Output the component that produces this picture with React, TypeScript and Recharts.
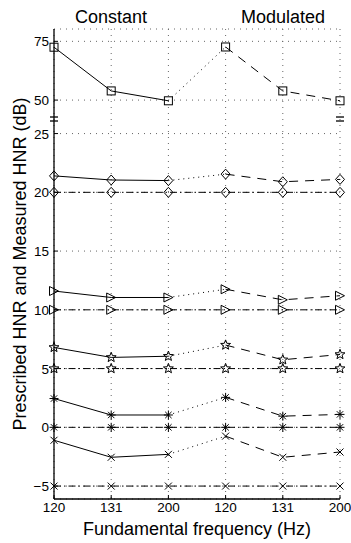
import React from 'react';
import { LineChart, Line, XAxis, YAxis, CartesianGrid, ReferenceLine } from 'recharts';

const W = 351;
const H = 543;
const FONT = '"Liberation Sans", Arial, Helvetica, sans-serif';

const freqLabels = ['120', '131', '200', '120', '131', '200'];
const groupTitles = ['Constant', 'Modulated'];
const yTickValues = [-5, 0, 5, 10, 15, 20, 25, 50, 75];

// measured HNR, first three = constant F0, last three = modulated F0
const squareMeasured = [72.5, 53.9, 49.7, 72.6, 53.9, 49.7];
const diamondMeasured = [21.4, 21.05, 21.0, 21.55, 20.9, 21.1];
const triangleMeasured = [11.6, 11.05, 11.05, 11.75, 10.85, 11.2];
const starMeasured = [6.8, 5.95, 6.05, 7.0, 5.75, 6.2];
const asteriskMeasured = [2.45, 1.05, 1.05, 2.55, 0.95, 1.1];
const crossMeasured = [-1.1, -2.55, -2.3, -0.75, -2.55, -2.1];

// prescribed HNR
const diamondPrescribed = [20, 20, 20, 20, 20, 20];
const trianglePrescribed = [10, 10, 10, 10, 10, 10];
const starPrescribed = [5, 5, 5, 5, 5, 5];
const asteriskPrescribed = [0, 0, 0, 0, 0, 0];
const crossPrescribed = [-5, -5, -5, -5, -5, -5];

// broken axis: values above the break are compressed 5x
const BREAK_BASE = 27.85;
const toAxis = (v: number) => (v > 30 ? BREAK_BASE + (v - 50) / 5 : v);
const displayTicks = yTickValues.map(toAxis);
const breakMarks = [26.41, 26.07];

const measured = [
  { key: 'sq', shape: 'square', values: squareMeasured },
  { key: 'di', shape: 'diamond', values: diamondMeasured },
  { key: 'tr', shape: 'triangle', values: triangleMeasured },
  { key: 'st', shape: 'star', values: starMeasured },
  { key: 'as', shape: 'asterisk', values: asteriskMeasured },
  { key: 'cr', shape: 'cross', values: crossMeasured },
];

const prescribed = [
  { key: 'di', shape: 'diamond', values: diamondPrescribed },
  { key: 'tr', shape: 'triangle', values: trianglePrescribed },
  { key: 'st', shape: 'star', values: starPrescribed },
  { key: 'as', shape: 'asterisk', values: asteriskPrescribed },
  { key: 'cr', shape: 'cross', values: crossPrescribed },
];

const rows = freqLabels.map((_, i) => {
  const row: any = { i };
  measured.forEach((s) => {
    const v = toAxis(s.values[i]);
    row[s.key + 'C'] = i <= 2 ? v : null;
    row[s.key + 'B'] = i === 2 || i === 3 ? v : null;
    row[s.key + 'M'] = i >= 3 ? v : null;
  });
  prescribed.forEach((p) => {
    row[p.key + 'P'] = toAxis(p.values[i]);
  });
  return row;
});

function Marker({ shape, cx, cy }: { shape: string; cx: number; cy: number }) {
  const s = { fill: 'none', stroke: '#000', strokeWidth: 1 };
  if (shape === 'square') return <rect x={cx - 4} y={cy - 4} width={8} height={8} {...s} />;
  if (shape === 'diamond')
    return <path d={`M${cx},${cy - 5}L${cx + 4.5},${cy}L${cx},${cy + 5}L${cx - 4.5},${cy}Z`} {...s} />;
  if (shape === 'triangle')
    return <path d={`M${cx - 4.5},${cy - 4.5}L${cx + 4.5},${cy}L${cx - 4.5},${cy + 4.5}Z`} {...s} />;
  if (shape === 'star') {
    let d = '';
    for (let k = 0; k < 10; k++) {
      const r = k % 2 === 0 ? 5.2 : 2.2;
      const a = -Math.PI / 2 + (k * Math.PI) / 5;
      d += (k === 0 ? 'M' : 'L') + (cx + r * Math.cos(a)).toFixed(2) + ',' + (cy + r * Math.sin(a)).toFixed(2);
    }
    return <path d={d + 'Z'} {...s} />;
  }
  if (shape === 'asterisk') {
    const r = 4.5;
    const q = r * 0.707;
    return (
      <path
        d={`M${cx - r},${cy}L${cx + r},${cy}M${cx},${cy - r}L${cx},${cy + r}M${cx - q},${cy - q}L${cx + q},${cy + q}M${cx - q},${cy + q}L${cx + q},${cy - q}`}
        {...s}
      />
    );
  }
  const r = 3.5;
  return <path d={`M${cx - r},${cy - r}L${cx + r},${cy + r}M${cx - r},${cy + r}L${cx + r},${cy - r}`} {...s} />;
}

const makeDot = (shape: string, id: string) => (props: any) => {
  const { cx, cy, index, value } = props;
  if (value == null || cx == null || cy == null) return <g key={`${id}-${index}`} />;
  return (
    <g key={`${id}-${index}`}>
      <Marker shape={shape} cx={cx} cy={cy} />
    </g>
  );
};

const TICK = 4;

const BottomTick = (p: any) => (
  <g>
    <line x1={p.x} y1={p.y} x2={p.x} y2={p.y - TICK} stroke="#000" />
    <text x={p.x} y={p.y + 13} textAnchor="middle" fontSize={13.5} fontFamily={FONT} fill="#000">
      {freqLabels[p.payload.value]}
    </text>
  </g>
);

const TopTick = (p: any) => <line x1={p.x} y1={p.y} x2={p.x} y2={p.y + TICK} stroke="#000" />;

const LeftTick = (p: any) => {
  const idx = displayTicks.indexOf(p.payload.value);
  return (
    <g>
      <line x1={p.x} y1={p.y} x2={p.x + TICK} y2={p.y} stroke="#000" />
      <text x={p.x - 5} y={p.y + 5} textAnchor="end" fontSize={13.5} fontFamily={FONT} fill="#000">
        {idx >= 0 ? (yTickValues[idx] < 0 ? '\u2212' + Math.abs(yTickValues[idx]) : yTickValues[idx]) : ''}
      </text>
    </g>
  );
};

const RightTick = (p: any) => <line x1={p.x} y1={p.y} x2={p.x - TICK} y2={p.y} stroke="#000" />;

export default function App() {
  const xTicks = freqLabels.map((_, i) => i);
  return (
    <div style={{ position: 'absolute', left: 0, top: 0, width: W, height: H, background: '#fff' }}>
      <LineChart width={W} height={H} data={rows} margin={{ top: 29, right: 11, bottom: 14, left: 14 }}>
        <CartesianGrid stroke="#666" strokeDasharray="1 5" />
        <XAxis
          dataKey="i"
          type="number"
          domain={[0, 5]}
          ticks={xTicks}
          tickSize={0}
          tickMargin={0}
          height={30}
          axisLine={{ stroke: '#000', strokeWidth: 1.3 }}
          tick={BottomTick}
          interval={0}
        />
        <XAxis
          xAxisId="top"
          orientation="top"
          dataKey="i"
          type="number"
          domain={[0, 5]}
          ticks={xTicks}
          tickSize={0}
          tickMargin={0}
          height={0}
          axisLine={{ stroke: '#000', strokeWidth: 1.3 }}
          tick={TopTick}
          interval={0}
          allowDataOverflow
        />
        <YAxis
          type="number"
          domain={[-6.1, 33.9]}
          ticks={displayTicks}
          tickSize={0}
          tickMargin={0}
          width={40}
          axisLine={{ stroke: '#000', strokeWidth: 1.3 }}
          tick={LeftTick}
          interval={0}
        />
        <YAxis
          yAxisId="right"
          orientation="right"
          type="number"
          domain={[-6.1, 33.9]}
          ticks={displayTicks}
          tickSize={0}
          tickMargin={0}
          width={0}
          axisLine={{ stroke: '#000', strokeWidth: 1.3 }}
          tick={RightTick}
          interval={0}
          allowDataOverflow
        />
        {breakMarks.flatMap((b) =>
          [0, 5].map((xe) => (
            <ReferenceLine
              key={`brk-${b}-${xe}`}
              segment={[
                { x: xe - 0.07, y: b },
                { x: xe + 0.07, y: b },
              ]}
              stroke="#000"
              strokeWidth={1.3}
              ifOverflow="visible"
            />
          ))
        )}
        {prescribed.map((p) => (
          <Line
            key={p.key + 'P'}
            dataKey={p.key + 'P'}
            stroke="#000"
            strokeWidth={1}
            strokeDasharray="7 3 1.5 3"
            dot={makeDot(p.shape, p.key + 'P')}
            activeDot={false}
            isAnimationActive={false}
          />
        ))}
        {measured.map((s) => [
          <Line
            key={s.key + 'C'}
            dataKey={s.key + 'C'}
            stroke="#000"
            strokeWidth={1}
            dot={makeDot(s.shape, s.key + 'C')}
            activeDot={false}
            isAnimationActive={false}
          />,
          <Line
            key={s.key + 'B'}
            dataKey={s.key + 'B'}
            stroke="#000"
            strokeWidth={1}
            strokeDasharray="1 4"
            dot={false}
            activeDot={false}
            isAnimationActive={false}
          />,
          <Line
            key={s.key + 'M'}
            dataKey={s.key + 'M'}
            stroke="#000"
            strokeWidth={1}
            strokeDasharray="9 7"
            dot={makeDot(s.shape, s.key + 'M')}
            activeDot={false}
            isAnimationActive={false}
          />,
        ])}
      </LineChart>
      <svg width={W} height={H} style={{ position: 'absolute', left: 0, top: 0, pointerEvents: 'none' }}>
        <text x={111} y={23} textAnchor="middle" fontSize={18} fontFamily={FONT}>
          {groupTitles[0]}
        </text>
        <text x={283} y={23} textAnchor="middle" fontSize={18} fontFamily={FONT}>
          {groupTitles[1]}
        </text>
        <text x={197} y={535} textAnchor="middle" fontSize={18} fontFamily={FONT}>
          Fundamental frequency (Hz)
        </text>
        <text
          x={26}
          y={264}
          textAnchor="middle"
          fontSize={18}
          fontFamily={FONT}
          transform="rotate(-90 26 264)"
        >
          Prescribed HNR and Measured HNR (dB)
        </text>
      </svg>
    </div>
  );
}
